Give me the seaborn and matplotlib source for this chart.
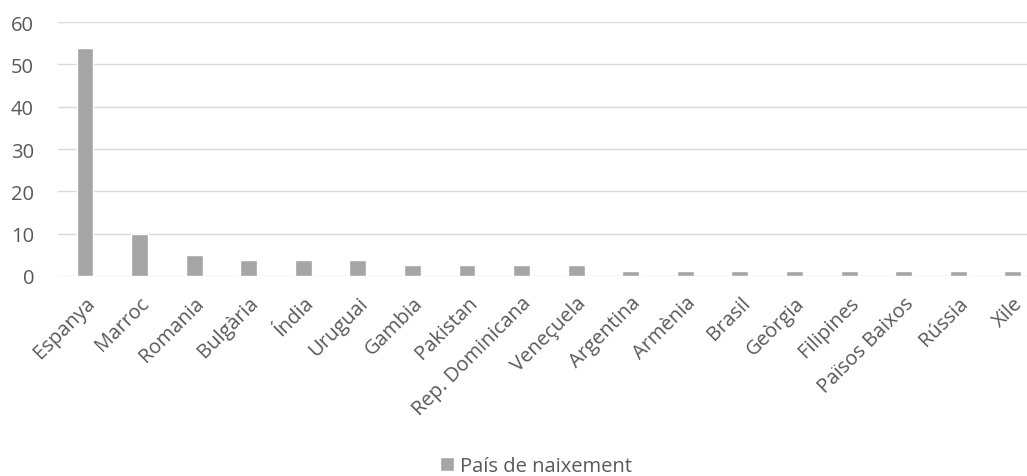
import seaborn as sns
import matplotlib.pyplot as plt
import pandas as pd

# dades: percentatge per país de naixement
paisos = ['Espanya', 'Marroc', 'Romania', 'Bulgària', 'Índia', 'Uruguai', 'Gambia',
          'Pakistan', 'Rep. Dominicana', 'Veneçuela', 'Argentina', 'Armènia', 'Brasil',
          'Geòrgia', 'Filipines', 'Països Baixos', 'Rússia', 'Xile']
valors = [53.75, 10, 5, 3.75, 3.75, 3.75, 2.5, 2.5, 2.5, 2.5,
          1.25, 1.25, 1.25, 1.25, 1.25, 1.25, 1.25, 1.25]
yticks = [0, 10, 20, 30, 40, 50, 60]
serie = 'País de naixement'

sns.set_style('white')
plt.rcParams['font.family'] = ['Open Sans', 'DejaVu Sans']

df = pd.DataFrame({'pais': paisos, 'valor': valors})

fig = plt.figure(figsize=(10.27, 4.77), dpi=100)
ax = fig.add_axes([57.7 / 1027, 1 - 277 / 477, (1027 - 57.7) / 1027, 254 / 477])

sns.barplot(data=df, x='pais', y='valor', color='#A5A5A5', width=0.31,
            saturation=1, label=serie, ax=ax, zorder=3)

ax.set_xlim(-0.5, 17.26)
ax.set_ylim(0, 60)
ax.set_yticks(yticks)
ax.yaxis.grid(True, color='#D9D9D9', linewidth=1.0, zorder=0)
ax.set_axisbelow(True)
for s in ax.spines.values():
    s.set_visible(False)
ax.tick_params(length=0, colors='#595959', labelsize=14.5)
ax.tick_params(axis='y', pad=17)
ax.set_xlabel('')
ax.set_ylabel('')
plt.setp(ax.get_xticklabels(), rotation=45, ha='right', rotation_mode='anchor')
ax.tick_params(axis='x', pad=12)

ax.legend(loc='center', bbox_to_anchor=(536 / 1027, 1 - 467 / 477), bbox_transform=fig.transFigure,
          frameon=False, fontsize=14.5, labelcolor='#595959', handlelength=0.65,
          handleheight=0.65, handletextpad=0.3)

fig.savefig('out.png', dpi=100)
